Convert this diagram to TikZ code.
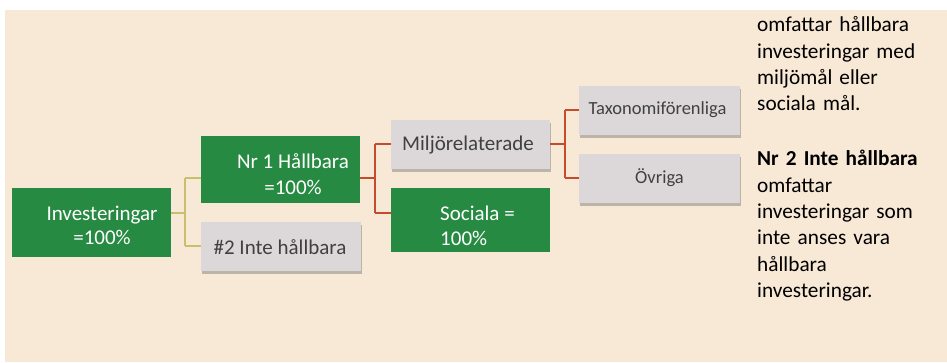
\documentclass[tikz,border=0pt]{standalone}
\usepackage{fontspec}
\setmainfont{Carlito}
\usetikzlibrary{shadows}
\definecolor{bgbeige}{HTML}{F8E8D6}
\definecolor{boxgreen}{HTML}{278A42}
\definecolor{boxgray}{HTML}{DCD8D9}
\definecolor{linered}{HTML}{C64A2C}
\definecolor{lineyel}{HTML}{CBBF6E}
\definecolor{txtgray}{HTML}{404040}
\begin{document}
\begin{tikzpicture}[x=1pt,y=-1pt,
  boxshape/.style={rectangle, inner sep=0pt, anchor=center},
  greenbox/.style={boxshape, fill=boxgreen},
  graybox/.style={boxshape, fill=boxgray,
    drop shadow={shadow xshift=1pt, shadow yshift=-3pt, fill=black!55, opacity=0.45}},
  wtxt/.style={inner sep=0pt, text=white, font=\fontsize{21}{24}\selectfont},
  gtxt/.style={inner sep=0pt, text=txtgray, font=\fontsize{21}{24}\selectfont},
  stxt/.style={inner sep=0pt, text=txtgray, font=\fontsize{18.5}{22}\selectfont},
  yline/.style={draw=lineyel, line width=1.5pt},
  rline/.style={draw=linered, line width=2.2pt}]
\useasboundingbox (0,0) rectangle (947,363);
\fill[bgbeige] (5,10) rectangle (947,362);

% boxes
\node[greenbox, minimum width=159pt, minimum height=69pt] (inv) at (91.5,222.5) {};
\node[greenbox, minimum width=159pt, minimum height=67pt] (nr1) at (280.5,169.5) {};
\node[graybox, minimum width=160pt, minimum height=49pt] (nr2) at (281,246.5) {};
\node[graybox, minimum width=159pt, minimum height=49pt] (milj) at (470.5,144.5) {};
\node[greenbox, minimum width=159pt, minimum height=64pt] (soc) at (470.5,220) {};
\node[graybox, minimum width=161pt, minimum height=49pt] (tax) at (659.5,110.5) {};
\node[graybox, minimum width=161pt, minimum height=49pt] (ovr) at (659.5,178.5) {};

% texts
\node[wtxt, align=center] (invt) at (102,225) {Investeringar\\=100\%};
\node[wtxt, align=center, font=\fontsize{21}{26}\selectfont] (nr1t) at (293,174) {Nr 1 Hållbara\\=100\%};
\node[gtxt] (nr2t) at (280,247) {\#2 Inte hållbara};
\node[gtxt] (miljt) at (468,145) {Miljörelaterade};
\node[wtxt, align=left, anchor=west, font=\fontsize{21}{25}\selectfont] (soct) at (440,226) {Sociala =\\100\%};
\node[stxt] (taxt) at (657.5,110) {Taxonomiförenliga};
\node[stxt] (ovrt) at (659.5,178) {Övriga};

% yellow connectors
\coordinate (ya) at (185,213);
\coordinate (yb) at (185,178);
\coordinate (yc) at (185,246);
\draw[yline] (inv.east|-ya) -- (ya);
\draw[yline] (yb) -- (yc);
\draw[yline] (yb) -- (nr1.west|-yb);
\draw[yline] (yc) -- (nr2.west|-yc);

% red connectors level 2
\coordinate (ra) at (375,178);
\coordinate (rb) at (375,144);
\coordinate (rc) at (375,213);
\draw[rline] (nr1.east|-ra) -- (ra);
\draw[rline] (rb) -- (rc);
\draw[rline] (rb) -- (milj.west|-rb);
\draw[rline] (rc) -- (soc.west|-rc);

% red connectors level 3
\coordinate (sa) at (565,144);
\coordinate (sb) at (565,110);
\coordinate (sc) at (565,178);
\draw[rline] (milj.east|-sa) -- (sa);
\draw[rline] (sb) -- (sc);
\draw[rline] (sb) -- (tax.west|-sb);
\draw[rline] (sc) -- (ovr.west|-sc);

% right-hand text
\node[inner sep=0pt, anchor=base west, text width=188pt, align=left, text=black,
      font=\fontsize{21.3}{26.3}\selectfont] (note) at (757,32)
  {omfattar hållbara\\investeringar med\\miljömål eller\\sociala mål.\\[28.7pt]
   \textbf{Nr 2 Inte hållbara}\\omfattar\\investeringar som\\inte anses vara\\hållbara\\investeringar.};
\end{tikzpicture}
\end{document}
